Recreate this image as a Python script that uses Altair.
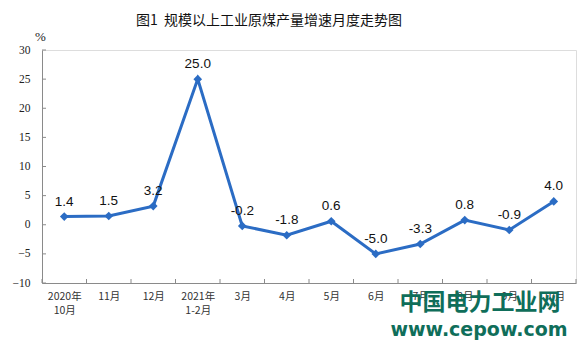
import json
import altair as alt
import pandas as pd

# ---- data ----
months = ["2020年\n10月", "11月", "12月", "2021年\n1-2月", "3月", "4月",
          "5月", "6月", "7月", "8月", "9月", "10月"]
growth = [1.4, 1.5, 3.2, 25.0, -0.2, -1.8, 0.6, -5.0, -3.3, 0.8, -0.9, 4.0]
y_ticks = [-10, -5, 0, 5, 10, 15, 20, 25, 30]
title_text = "图1\u00a0\u00a0规模以上工业原煤产量增速月度走势图"
wm_cn = "中国电力工业网"
wm_url = "www.cepow.com"

W, H = 534, 233
LINE = "#2b6cc4"
AXIS = "#8a8a8a"

idx = list(range(len(months)))
df = pd.DataFrame({"i": idx, "v": growth, "lab": [f"{g:.1f}" for g in growth]})
bounds = pd.DataFrame({"b": [i - 0.5 for i in range(len(months) + 1)]})
yt = pd.DataFrame({"t": y_ticks})

label_arr = json.dumps(months, ensure_ascii=False)
label_expr = f"split({label_arr}[datum.value], '\\n')"

xscale = alt.Scale(domain=[-0.5, len(months) - 0.5], nice=False, zero=False)
yscale = alt.Scale(domain=[-10, 30], nice=False)

xaxis = alt.Axis(
    values=idx, labelExpr=label_expr, ticks=False, grid=False,
    domainColor=AXIS, labelFont="Noto Sans CJK SC", labelFontSize=10.5,
    labelColor="#333333", labelPadding=8, title=None, labelLineHeight=14,
    labelOverlap=False)
yaxis = alt.Axis(
    values=y_ticks, ticks=False, grid=False, domainColor=AXIS,
    labelFont="Liberation Serif", labelFontSize=11.5, labelColor="#222222",
    labelPadding=12, labelOverlap=False,
    title="%", titleAngle=0, titleX=-2, titleY=-7,
    titleAlign="center", titleBaseline="bottom", titleFont="Liberation Serif",
    titleFontSize=13, titleFontWeight="normal", titleColor="#222222")

base = alt.Chart(df)

line = base.mark_line(color=LINE, strokeWidth=3).encode(
    x=alt.X("i:Q", scale=xscale, axis=xaxis),
    y=alt.Y("v:Q", scale=yscale, axis=yaxis),
)

points = base.mark_point(shape="diamond", filled=True, color=LINE, size=75, opacity=1).encode(
    x=alt.X("i:Q", scale=xscale, axis=xaxis), y=alt.Y("v:Q", scale=yscale, axis=yaxis))

labels = base.mark_text(dy=-15, fontSize=13.5, font="Liberation Sans", color="#111111").encode(
    x=alt.X("i:Q", scale=xscale, axis=xaxis), y=alt.Y("v:Q", scale=yscale, axis=yaxis),
    text="lab:N")

xt = alt.Chart(bounds).mark_rule(color=AXIS, strokeWidth=1).encode(
    x=alt.X("b:Q", scale=xscale, axis=xaxis), y=alt.value(H), y2=alt.value(H - 4))

ytk = alt.Chart(yt).mark_rule(color=AXIS, strokeWidth=1).encode(
    y=alt.Y("t:Q", scale=yscale, axis=yaxis), x=alt.value(0), x2=alt.value(4))

wm1 = alt.Chart(pd.DataFrame({"t": [wm_cn]})).mark_text(
    fontSize=23, fontWeight="bold", font="Noto Sans CJK SC", color="#0f6e5a").encode(
    text="t:N", x=alt.value(438), y=alt.value(253))
wm2 = alt.Chart(pd.DataFrame({"t": [wm_url]})).mark_text(
    fontSize=19, fontWeight="bold", font="DejaVu Sans", color="#0f6e5a").encode(
    text="t:N", x=alt.value(437), y=alt.value(280))

chart = alt.layer(line, xt, ytk, points, labels, wm1, wm2).properties(
    width=W, height=H,
    autosize=alt.AutoSizeParams(type="none"),
    padding={"left": 42, "top": 50, "right": 4, "bottom": 74},
    title=alt.TitleParams(title_text, font="Noto Sans CJK SC", fontSize=14,
                          fontWeight="normal", color="#111111", anchor="middle",
                          dx=-40, offset=2),
).configure_view(stroke=None).configure(background="white")

chart.save("out.html", embed_options={"renderer": "svg", "actions": False})
